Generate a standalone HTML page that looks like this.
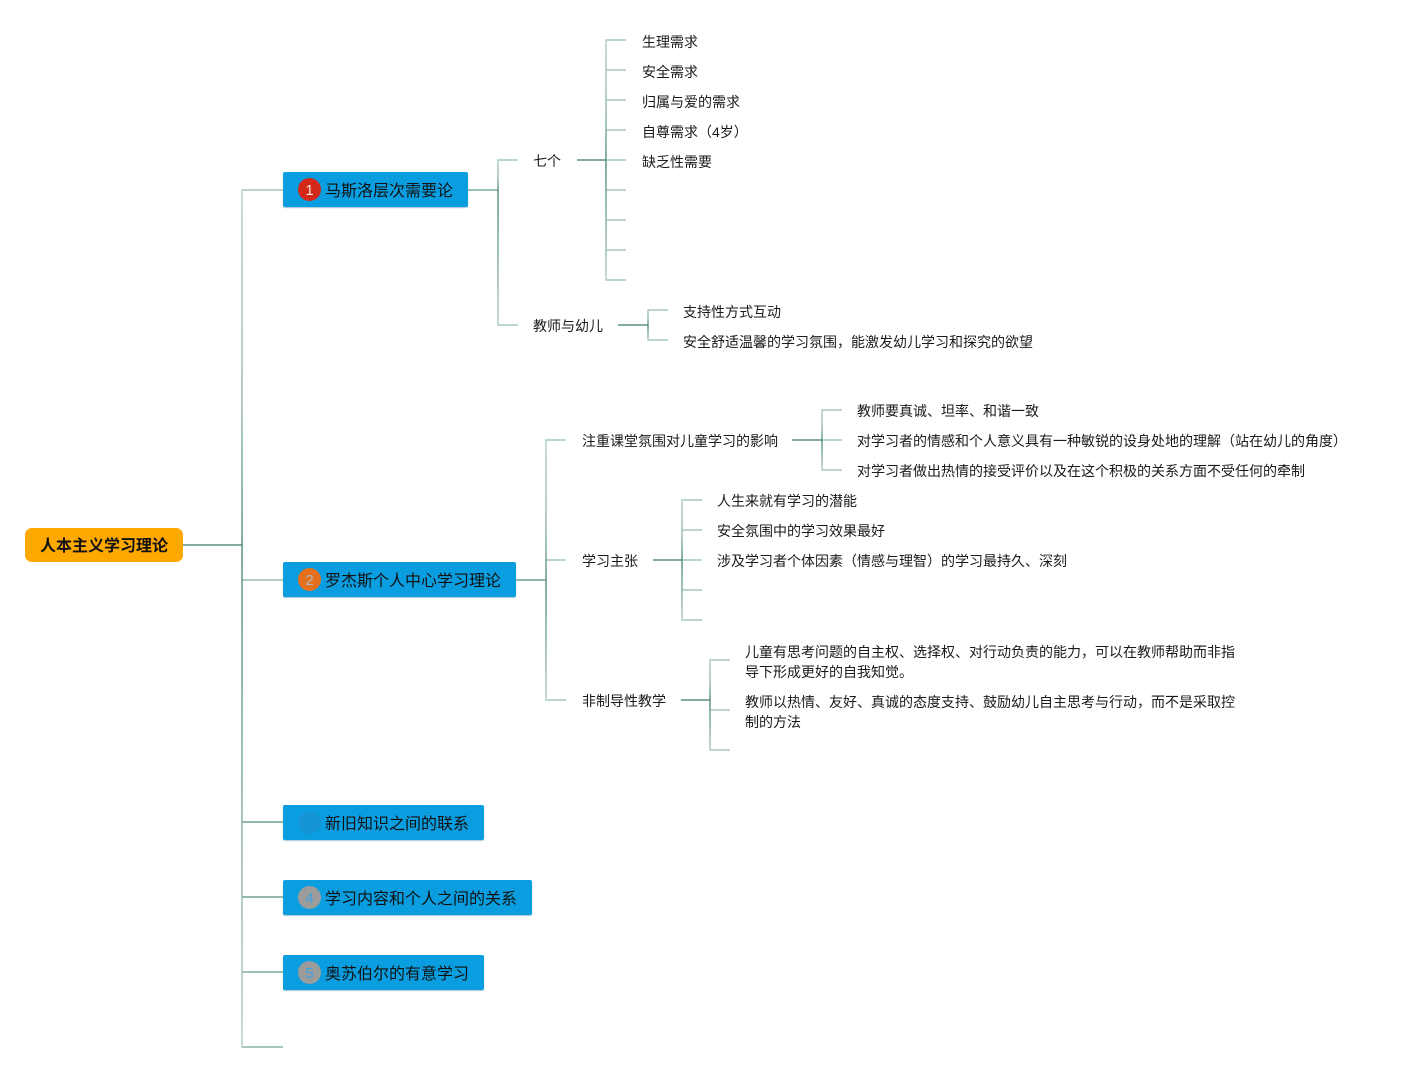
<!DOCTYPE html>
<html>
<head>
<meta charset="utf-8">
<style>
  html,body{margin:0;padding:0;background:#fff;}
  body{width:1407px;height:1073px;position:relative;overflow:hidden;
       font-family:"Liberation Sans","Noto Sans CJK SC","WenQuanYi Zen Hei",sans-serif;}
  svg{position:absolute;left:0;top:0;}
  .t{position:absolute;font-size:14px;line-height:20px;color:#1a1a1a;white-space:nowrap;margin-top:1px;}
  .root{position:absolute;left:25px;top:528px;width:158px;height:34px;background:#ffa900;
        border-radius:7px;font-weight:bold;font-size:16px;line-height:38px;text-align:center;color:#111;box-sizing:border-box;}
  .box{position:absolute;left:283px;height:35px;background:#0a9ee0;border-radius:2px;
       box-shadow:0 1px 1px rgba(0,90,140,0.35);}
  .box .lbl{position:absolute;left:42px;top:2px;font-size:16px;line-height:35px;color:#111;white-space:nowrap;}
  .badge{position:absolute;left:15px;top:6px;width:23px;height:23px;border-radius:50%;
         font-size:15px;line-height:25px;text-align:center;}
</style>
</head>
<body>
<svg width="1407" height="1073" viewBox="0 0 1407 1073">
  <defs>
    <linearGradient id="gup" x1="0" y1="0" x2="0" y2="1">
      <stop offset="0" stop-color="#b3d1c8"/>
      <stop offset="0.6" stop-color="#98bdb2"/>
      <stop offset="1" stop-color="#5b9181"/>
    </linearGradient>
    <linearGradient id="gdn" x1="0" y1="0" x2="0" y2="1">
      <stop offset="0" stop-color="#5b9181"/>
      <stop offset="0.4" stop-color="#7fa99c"/>
      <stop offset="1" stop-color="#b3d1c8"/>
    </linearGradient>
  </defs>
  <g fill="none" stroke-width="1.5">
    <line x1="183" y1="545" x2="243" y2="545" stroke="#5b9181"/>
    <line x1="242" y1="190" x2="283" y2="190" stroke="#a3c5bb"/>
    <line x1="242" y1="580" x2="283" y2="580" stroke="#98bdb2"/>
    <line x1="242" y1="822" x2="283" y2="822" stroke="#6f9e90"/>
    <line x1="242" y1="897" x2="283" y2="897" stroke="#74a294"/>
    <line x1="242" y1="972" x2="283" y2="972" stroke="#80aa9e"/>
    <line x1="242" y1="1047" x2="283" y2="1047" stroke="#8ab2a7"/>

    <line x1="468" y1="190" x2="498" y2="190" stroke="#7ea99c"/>
    <line x1="498" y1="160" x2="518" y2="160" stroke="#a6c7bd"/>
    <line x1="498" y1="325" x2="518" y2="325" stroke="#a6c7bd"/>
    <line x1="577" y1="160" x2="606" y2="160" stroke="#5b9181"/>
    <line x1="606" y1="40" x2="626" y2="40" stroke="#a6c7bd"/>
    <line x1="606" y1="70" x2="626" y2="70" stroke="#a6c7bd"/>
    <line x1="606" y1="100" x2="626" y2="100" stroke="#a6c7bd"/>
    <line x1="606" y1="130" x2="626" y2="130" stroke="#a6c7bd"/>
    <line x1="606" y1="160" x2="626" y2="160" stroke="#a6c7bd"/>
    <line x1="606" y1="190" x2="626" y2="190" stroke="#a6c7bd"/>
    <line x1="606" y1="220" x2="626" y2="220" stroke="#a6c7bd"/>
    <line x1="606" y1="250" x2="626" y2="250" stroke="#a6c7bd"/>
    <line x1="606" y1="280" x2="626" y2="280" stroke="#a6c7bd"/>
    <line x1="618" y1="325" x2="648" y2="325" stroke="#5b9181"/>
    <line x1="648" y1="310" x2="668" y2="310" stroke="#a6c7bd"/>
    <line x1="648" y1="340" x2="668" y2="340" stroke="#a6c7bd"/>

    <line x1="516" y1="580" x2="546" y2="580" stroke="#6f9e90"/>
    <line x1="546" y1="440" x2="566" y2="440" stroke="#a6c7bd"/>
    <line x1="546" y1="560" x2="566" y2="560" stroke="#a6c7bd"/>
    <line x1="546" y1="700" x2="566" y2="700" stroke="#a6c7bd"/>
    <line x1="792" y1="440" x2="822" y2="440" stroke="#5b9181"/>
    <line x1="822" y1="410" x2="842" y2="410" stroke="#a6c7bd"/>
    <line x1="822" y1="440" x2="842" y2="440" stroke="#a6c7bd"/>
    <line x1="822" y1="470" x2="842" y2="470" stroke="#a6c7bd"/>
    <line x1="653" y1="560" x2="682" y2="560" stroke="#5b9181"/>
    <line x1="682" y1="500" x2="702" y2="500" stroke="#a6c7bd"/>
    <line x1="682" y1="530" x2="702" y2="530" stroke="#a6c7bd"/>
    <line x1="682" y1="560" x2="702" y2="560" stroke="#a6c7bd"/>
    <line x1="682" y1="590" x2="702" y2="590" stroke="#a6c7bd"/>
    <line x1="682" y1="620" x2="702" y2="620" stroke="#a6c7bd"/>
    <line x1="681" y1="700" x2="710" y2="700" stroke="#5b9181"/>
    <line x1="710" y1="660" x2="730" y2="660" stroke="#a6c7bd"/>
    <line x1="710" y1="710" x2="730" y2="710" stroke="#a6c7bd"/>
    <line x1="710" y1="750" x2="730" y2="750" stroke="#a6c7bd"/>
  </g>
  <g>
    <rect x="241.25" y="189.25" width="1.5" height="356" fill="url(#gup)"/>
    <rect x="241.25" y="545" width="1.5" height="502.75" fill="url(#gdn)"/>

    <rect x="497.25" y="159.25" width="1.5" height="31" fill="url(#gup)"/>
    <rect x="497.25" y="190" width="1.5" height="135.75" fill="url(#gdn)"/>

    <rect x="605.25" y="39.25" width="1.5" height="121" fill="url(#gup)"/>
    <rect x="605.25" y="160" width="1.5" height="120.75" fill="url(#gdn)"/>

    <rect x="647.25" y="309.25" width="1.5" height="16" fill="url(#gup)"/>
    <rect x="647.25" y="325" width="1.5" height="15.75" fill="url(#gdn)"/>

    <rect x="545.25" y="439.25" width="1.5" height="141" fill="url(#gup)"/>
    <rect x="545.25" y="580" width="1.5" height="120.75" fill="url(#gdn)"/>

    <rect x="821.25" y="409.25" width="1.5" height="31" fill="url(#gup)"/>
    <rect x="821.25" y="440" width="1.5" height="30.75" fill="url(#gdn)"/>

    <rect x="681.25" y="499.25" width="1.5" height="61" fill="url(#gup)"/>
    <rect x="681.25" y="560" width="1.5" height="60.75" fill="url(#gdn)"/>

    <rect x="709.25" y="659.25" width="1.5" height="41" fill="url(#gup)"/>
    <rect x="709.25" y="700" width="1.5" height="50.75" fill="url(#gdn)"/>
  </g>
</svg>

<div class="root">人本主义学习理论</div>

<div class="box" style="top:172px;width:185px;">
  <div class="badge" style="background:#d4291a;color:#f6e0da;">1</div>
  <div class="lbl">马斯洛层次需要论</div>
</div>
<div class="box" style="top:562px;width:233px;">
  <div class="badge" style="background:#e46f1c;color:#b0b8c0;">2</div>
  <div class="lbl">罗杰斯个人中心学习理论</div>
</div>
<div class="box" style="top:805px;width:201px;">
  <div class="badge" style="background:#1595d6;color:#1595d6;">3</div>
  <div class="lbl">新旧知识之间的联系</div>
</div>
<div class="box" style="top:880px;width:249px;">
  <div class="badge" style="background:#9c9c9c;color:#3aa4e0;">4</div>
  <div class="lbl">学习内容和个人之间的关系</div>
</div>
<div class="box" style="top:955px;width:201px;">
  <div class="badge" style="background:#9c9c9c;color:#3aa4e0;">5</div>
  <div class="lbl">奥苏伯尔的有意学习</div>
</div>

<div class="t" style="left:533px;top:150px;">七个</div>
<div class="t" style="left:533px;top:315px;">教师与幼儿</div>
<div class="t" style="left:642px;top:31px;">生理需求</div>
<div class="t" style="left:642px;top:61px;">安全需求</div>
<div class="t" style="left:642px;top:91px;">归属与爱的需求</div>
<div class="t" style="left:642px;top:121px;">自尊需求（4岁）</div>
<div class="t" style="left:642px;top:151px;">缺乏性需要</div>
<div class="t" style="left:683px;top:301px;">支持性方式互动</div>
<div class="t" style="left:683px;top:331px;">安全舒适温馨的学习氛围，能激发幼儿学习和探究的欲望</div>

<div class="t" style="left:582px;top:430px;">注重课堂氛围对儿童学习的影响</div>
<div class="t" style="left:582px;top:550px;">学习主张</div>
<div class="t" style="left:582px;top:690px;">非制导性教学</div>
<div class="t" style="left:857px;top:400px;">教师要真诚、坦率、和谐一致</div>
<div class="t" style="left:857px;top:430px;">对学习者的情感和个人意义具有一种敏锐的设身处地的理解（站在幼儿的角度）</div>
<div class="t" style="left:857px;top:460px;">对学习者做出热情的接受评价以及在这个积极的关系方面不受任何的牵制</div>
<div class="t" style="left:717px;top:490px;">人生来就有学习的潜能</div>
<div class="t" style="left:717px;top:520px;">安全氛围中的学习效果最好</div>
<div class="t" style="left:717px;top:550px;">涉及学习者个体因素（情感与理智）的学习最持久、深刻</div>
<div class="t" style="left:745px;top:641px;">儿童有思考问题的自主权、选择权、对行动负责的能力，可以在教师帮助而非指<br>导下形成更好的自我知觉。</div>
<div class="t" style="left:745px;top:691px;">教师以热情、友好、真诚的态度支持、鼓励幼儿自主思考与行动，而不是采取控<br>制的方法</div>
</body>
</html>
